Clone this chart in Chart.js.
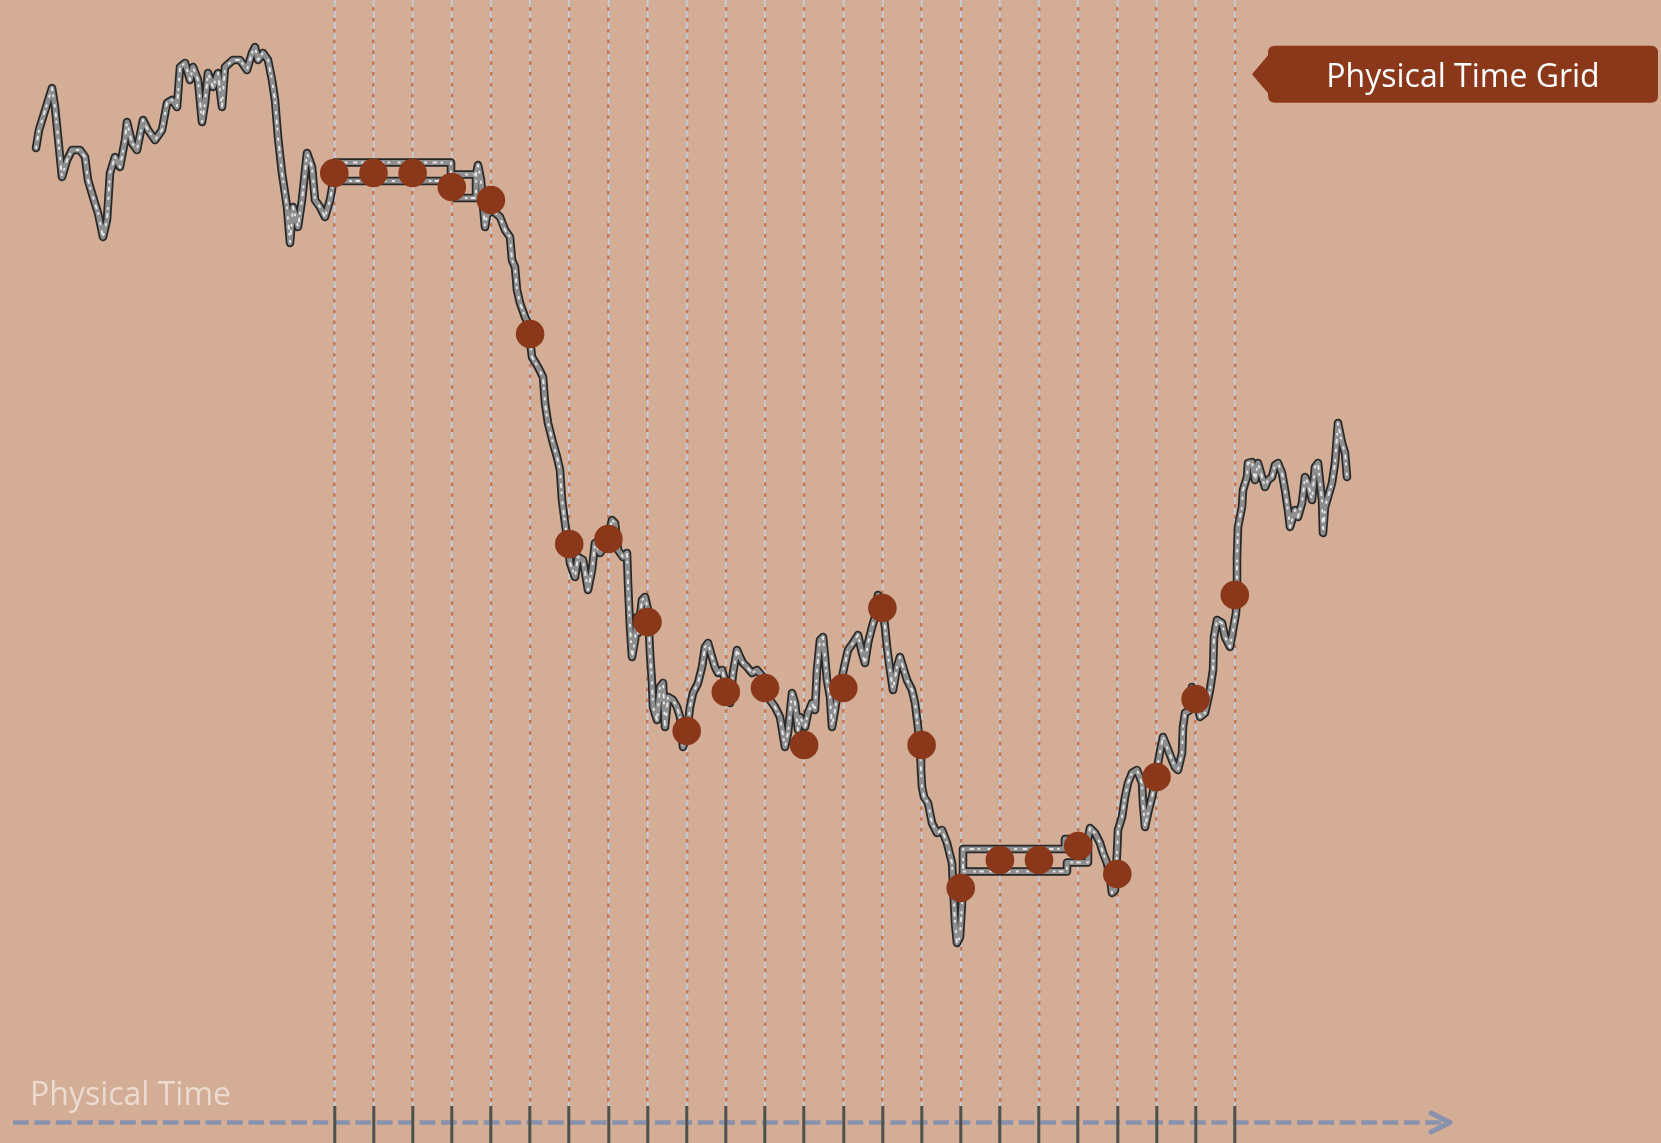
<!DOCTYPE html>
<html>
<head>
<meta charset="utf-8">
<title>Physical Time Grid</title>
<script src="https://cdn.jsdelivr.net/npm/chart.js@4.4.1/dist/chart.umd.min.js"></script>
<style>
  html, body { margin: 0; padding: 0; background: #d3ad95; }
  #wrap { width: 1661px; height: 1143px; }
</style>
</head>
<body>
<div id="wrap"><canvas id="timeChart" width="1661" height="1143"></canvas></div>
<script>
// price path: time (s) and price, split in pieces
const walkATime = [36, 39, 43, 52, 55, 58, 62, 67, 72, 80, 85, 88, 93, 98, 103, 107, 110, 115, 120, 125,
  127, 132, 137, 143, 148, 155, 162, 167, 172, 177, 180, 185, 190, 193, 198, 202, 205, 208, 213, 218,
  222, 225, 233, 240, 247, 252, 255, 258, 263, 268, 272, 275, 278, 282, 287, 290, 293, 298, 302, 307,
  312, 315, 320, 325, 330, 333];
const walkAPrice = [95.8, 97.6, 98.9, 101.8, 99.9, 96.9, 92.9, 94.6, 95.6, 95.6, 94.9, 92.6, 90.9, 89.3, 86.9, 88.6, 93.3, 94.9, 93.9, 96.6,
  98.4, 96.3, 95.6, 98.6, 97.6, 96.6, 97.6, 100.3, 100.6, 99.9, 103.9, 104.3, 102.6, 103.9, 102.6, 98.4, 100.3, 103.3, 101.9, 103.3,
  99.9, 103.9, 104.6, 104.6, 103.6, 105.3, 105.9, 104.6, 105.3, 104.6, 102.6, 100.6, 96.9, 93.3, 89.9, 86.3, 89.9, 87.9, 90.6, 95.3,
  93.9, 90.6, 89.9, 88.9, 90.6, 92.3];

// flat stretch (no trades) drawn as a hollow band
const flatATime = [335, 335, 451, 451, 476, 476, 455, 455, 335];
const flatAPrice = [92.5, 94.35, 94.35, 93.15, 93.15, 90.8, 90.8, 92.5, 92.5];

const walkBTime = [476, 478, 481, 483, 485, 487, 492, 500, 505, 510,
  512, 515, 517, 520, 525, 528, 532, 538, 543, 545,
  548, 553, 557, 560, 562, 565, 568, 570, 575, 578,
  583, 588, 592, 595, 600, 607, 612, 615, 618, 623,
  627, 628, 630, 632, 635, 637, 638, 642, 645, 648,
  650, 652, 653, 657, 660, 663, 665, 668, 673, 677,
  680, 683, 687, 690, 693, 698, 702, 705, 708, 712,
  715, 718, 722, 727, 730, 733, 737, 740, 743, 747,
  752, 757, 763, 770, 775, 780, 785, 788, 792, 795,
  798, 800, 805, 808, 812, 815, 817, 820, 823, 825,
  827, 830, 832, 835, 837, 840, 845, 848, 853, 858,
  862, 865, 868, 872, 875, 878, 882, 885, 887, 890,
  893, 897, 900, 903, 907, 912, 915, 918, 920, 921,
  922, 924, 928, 932, 937, 942, 947, 952, 953, 954,
  955, 957, 960, 962];
const walkBPrice = [93.15, 94.1, 92.6, 90.1, 87.9, 89.1, 89.6, 88.9, 87.6, 86.9,
  84.6, 83.9, 81.6, 80.3, 78.9, 78.3, 74.9, 73.9, 72.9, 70.3,
  68.3, 66.3, 64.9, 63.6, 60.6, 58.3, 56.3, 54.3, 52.9, 54.9,
  54.6, 51.6, 53.6, 56.3, 55.3, 56.3, 58.6, 58.3, 55.6, 54.9,
  55.3, 52.3, 47.9, 44.9, 46.6, 48.9, 47.3, 50.6, 50.9, 49.6,
  45.3, 42.3, 39.9, 38.6, 41.9, 42.3, 37.9, 40.9, 40.6, 39.9,
  38.9, 35.9, 37.3, 39.9, 41.3, 42.3, 43.9, 45.9, 46.3, 44.9,
  43.9, 43.3, 43.6, 41.9, 40.3, 43.3, 45.6, 44.9, 44.3, 43.9,
  43.3, 43.6, 42.9, 40.6, 39.9, 38.9, 35.9, 37.3, 41.3, 40.3,
  37.6, 38.9, 37.9, 39.3, 40.3, 39.6, 43.6, 46.6, 46.9, 44.9,
  42.6, 40.9, 37.9, 39.6, 40.9, 41.9, 44.3, 45.6, 46.3, 47.1,
  45.3, 44.3, 46.3, 47.9, 48.9, 51.1, 50.3, 47.9, 45.9, 43.6,
  41.6, 43.9, 44.9, 43.9, 42.6, 41.6, 40.3, 37.9, 35.9, 33.6,
  31.9, 30.9, 30.3, 28.3, 27.3, 27.6, 26.3, 24.3, 22.3, 20.3,
  18.3, 16.3, 16.9, 20.3];

const flatBTime = [963, 963, 1065, 1065, 1088, 1088, 1067, 1067, 963];
const flatBPrice = [23.45, 25.7, 25.7, 26.7, 26.7, 24.35, 24.35, 23.45, 23.45];

const walkCTime = [1088, 1090, 1095, 1100, 1103, 1107, 1110, 1112, 1115, 1117,
  1118, 1122, 1125, 1128, 1132, 1137, 1142, 1143, 1145, 1148,
  1152, 1155, 1158, 1160, 1163, 1167, 1172, 1175, 1178, 1182,
  1183, 1185, 1190, 1192, 1197, 1200, 1205, 1210, 1213, 1214,
  1217, 1222, 1225, 1230, 1233, 1236, 1237, 1237, 1238, 1242,
  1243, 1247, 1248, 1252, 1255, 1258, 1262, 1265, 1268, 1272,
  1275, 1278, 1282, 1285, 1288, 1290, 1295, 1298, 1302, 1305,
  1308, 1312, 1315, 1318, 1322, 1323, 1325, 1328, 1332, 1335,
  1338, 1342, 1345, 1347];
const walkCPrice = [26.7, 27.8, 27.3, 26.3, 25.3, 24.3, 22.9, 21.3, 21.6, 25.3,
  27.6, 28.9, 30.9, 32.3, 33.3, 33.6, 32.3, 30.3, 27.9, 29.3,
  30.9, 32.3, 34.3, 35.4, 36.9, 35.9, 34.6, 33.9, 33.6, 35.3,
  37.9, 39.3, 39.6, 41.9, 40.3, 38.9, 39.3, 41.6, 43.6, 46.9,
  48.6, 48.3, 46.9, 45.9, 47.6, 49.3, 51.6, 54.9, 57.9, 59.9,
  61.6, 62.9, 64.3, 64.4, 62.6, 64.3, 62.9, 61.9, 62.6, 62.9,
  64.1, 64.3, 63.3, 61.6, 59.6, 57.9, 59.6, 58.9, 60.3, 62.9,
  62.3, 60.6, 63.9, 64.3, 60.6, 57.3, 59.9, 60.9, 62.3, 64.3,
  68.3, 66.3, 65.3, 62.9];

// sampling grid: one sample every fixed time step
const gridTimes = [334.3, 373.5, 412.6, 451.8, 490.9, 530.1, 569.2, 608.4, 647.5, 686.7, 725.8, 765.0,
  804.1, 843.3, 882.4, 921.6, 960.7, 999.9, 1039.0, 1078.2, 1117.3, 1156.5, 1195.6, 1234.8];
const gridPrice = [93.3, 93.3, 93.3, 91.9, 90.6, 77.2, 56.2, 56.7, 48.4, 37.5, 41.4, 41.8,
  36.1, 41.8, 49.8, 36.1, 21.8, 24.6, 24.6, 26.0, 23.2, 32.9, 40.7, 51.1];

const tagText = 'Physical Time Grid';
const axisText = 'Physical Time';

const bg = '#d3ad95';
const rust = '#8b381a';

function pts(times, prices) {
  return times.map((t, i) => ({ x: t, y: prices[i] }));
}
const gap = (t) => ({ x: t, y: null });

// whole price path, gaps where the line jumps
const pricePath = [
  ...pts(walkATime, walkAPrice),
  ...pts(flatATime, flatAPrice),
  gap(400),
  ...pts(walkBTime, walkBPrice),
  ...pts(flatBTime, flatBPrice),
  gap(1000),
  ...pts(walkCTime, walkCPrice)
];

function lineLayer(color, width, dash, order) {
  return {
    label: 'price',
    data: pricePath,
    borderColor: color,
    borderWidth: width,
    borderDash: dash,
    borderJoinStyle: 'round',
    borderCapStyle: 'round',
    pointRadius: 0,
    tension: 0,
    spanGaps: false,
    fill: false,
    order: order
  };
}

const setGridTicks = (scale) => {
  scale.ticks = gridTimes.map(v => ({ value: v }));
};

// arrow, tag and captions
const decorations = {
  id: 'decorations',
  beforeDraw(chart) {
    const { ctx, chartArea, scales } = chart;
    ctx.save();
    ctx.fillStyle = bg;
    ctx.fillRect(0, 0, chart.width, chart.height);

    const y = chartArea.bottom + 16.5;
    const x0 = scales.x.getPixelForValue(13);
    const x1 = scales.x.getPixelForValue(1450);
    ctx.strokeStyle = '#8892ad';
    ctx.lineWidth = 4.5;
    ctx.setLineDash([15.7, 5.7]);
    ctx.beginPath();
    ctx.moveTo(x0, y);
    ctx.lineTo(x1 - 6, y);
    ctx.stroke();
    ctx.setLineDash([]);
    ctx.lineWidth = 5;
    ctx.lineCap = 'round';
    ctx.lineJoin = 'round';
    ctx.beginPath();
    ctx.moveTo(x1 - 19, y - 9.5);
    ctx.lineTo(x1, y);
    ctx.lineTo(x1 - 19, y + 9.5);
    ctx.stroke();
    ctx.restore();
  },
  afterDraw(chart) {
    const { ctx } = chart;
    ctx.save();
    // caption of the time axis
    ctx.fillStyle = 'rgba(255,255,255,0.56)';
    ctx.font = '32px "Open Sans", sans-serif';
    ctx.textAlign = 'left';
    ctx.textBaseline = 'alphabetic';
    ctx.fillText(axisText, 30, 1105);

    // tag in the top right
    const left = 1268, right = 1658, top = 45.7, bottom = 102.7, r = 7;
    const mid = (top + bottom) / 2;
    ctx.fillStyle = rust;
    ctx.beginPath();
    ctx.moveTo(left + r, top);
    ctx.lineTo(right - r, top);
    ctx.quadraticCurveTo(right, top, right, top + r);
    ctx.lineTo(right, bottom - r);
    ctx.quadraticCurveTo(right, bottom, right - r, bottom);
    ctx.lineTo(left + r, bottom);
    ctx.quadraticCurveTo(left, bottom, left, bottom - r);
    ctx.lineTo(left, mid + 19);
    ctx.lineTo(left - 16, mid);
    ctx.lineTo(left, mid - 19);
    ctx.lineTo(left, top + r);
    ctx.quadraticCurveTo(left, top, left + r, top);
    ctx.closePath();
    ctx.fill();
    ctx.fillStyle = '#ffffff';
    ctx.textAlign = 'center';
    ctx.fillText(tagText, (left + right) / 2, 86.7);
    ctx.restore();
  }
};

const ctx = document.getElementById('timeChart');
new Chart(ctx, {
  type: 'line',
  data: {
    datasets: [
      {
        label: 'grid samples',
        data: pts(gridTimes, gridPrice),
        showLine: false,
        pointRadius: 14.3,
        pointHoverRadius: 14.3,
        pointBackgroundColor: rust,
        pointBorderWidth: 0,
        order: 0
      },
      lineLayer('rgba(245,245,245,0.85)', 2, [1.5, 7, 3, 5, 1, 9], 1),
      lineLayer('#8e8e8e', 5, [], 2),
      lineLayer('#282828', 8.5, [], 3)
    ]
  },
  options: {
    responsive: false,
    animation: false,
    layout: { padding: 0, autoPadding: false },
    plugins: {
      legend: { display: false },
      tooltip: { enabled: false }
    },
    scales: {
      x: {
        type: 'linear',
        position: 'bottom',
        min: 0,
        max: 1661,
        afterBuildTicks: setGridTicks,
        ticks: { display: false },
        grid: {
          color: '#c5cde0',
          lineWidth: 1.6,
          drawTicks: true,
          tickLength: 37,
          tickColor: '#4e524d',
          tickWidth: 3
        },
        border: { display: false, dash: [7.3, 3.5] }
      },
      x2: {
        type: 'linear',
        position: 'top',
        min: 0,
        max: 1661,
        afterBuildTicks: setGridTicks,
        ticks: { display: false },
        grid: { color: '#c07657', lineWidth: 2.4, drawTicks: false },
        border: { display: false, dash: [3.5, 7.3], dashOffset: -7.3 }
      },
      y: {
        type: 'linear',
        min: 0,
        max: 110.6,
        display: false
      }
    }
  },
  plugins: [decorations]
});
</script>
</body>
</html>
